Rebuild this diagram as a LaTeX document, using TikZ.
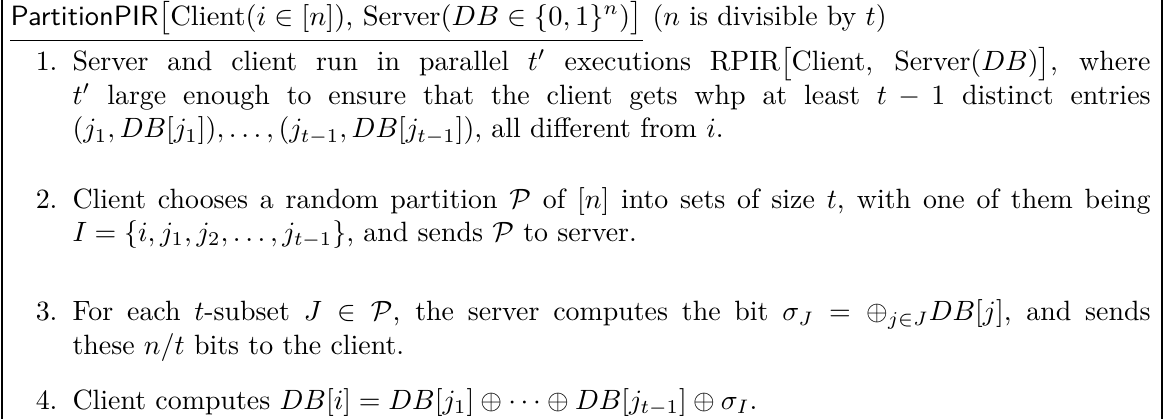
\documentclass[tikz,border=0pt]{standalone}
\usepackage{amsmath,amssymb,graphicx}
\begin{document}
\begin{tikzpicture}[x=1pt,y=1pt,
  itemtext/.style={anchor=base west,inner sep=0pt,text width=386.4pt,align=justify,font=\normalsize},
  itemlabel/.style={anchor=base east,inner sep=0pt},
  framerule/.style={line width=0.55pt},
  uline/.style={line width=0.4pt}]
\useasboundingbox (0,0) rectangle (417.2,-150.2);
\draw[framerule] (0.7,0) coordinate (lt) -- (0.7,-150.2) coordinate (lb);
\draw[framerule] (416.5,0) coordinate (rt) -- (416.5,-150.2) coordinate (rb);
\node[anchor=base west,inner sep=0pt] (tname) at (3.6,-9)
  {\scalebox{1.022}[1]{\textsf{PartitionPIR}$\big[$Client$(i\in[n])$, Server$(DB\in\{0,1\}^n)\big]$}};
\node[anchor=base west,inner sep=0pt] (tnote) at ([xshift=3.3pt]tname.base east) {($n$ is divisible by $t$)};
\draw[uline] ([yshift=-5.4pt]tname.base west) -- ([yshift=-5.4pt]tname.base east);
\node[itemtext] (i1) at (25.8,-25.4) {Server and client run in parallel $t'$ executions RPIR$\big[$Client, Server$(DB)\big]$, where\linebreak $t'$ large enough to ensure that the client gets whp at least $t-1$ distinct entries\linebreak $(j_1,DB[j_1]),\ldots,(j_{t-1},DB[j_{t-1}])$, all different from $i$.};
\node[itemlabel] (l1) at ([xshift=-5pt]i1.base west) {1.};
\node[itemtext] (i2) at (25.8,-74.6) {Client chooses a random partition $\mathcal{P}$ of $[n]$ into sets of size $t$, with one of them being\linebreak $I=\{i,j_1,j_2,\ldots,j_{t-1}\}$, and sends $\mathcal{P}$ to server.};
\node[itemlabel] (l2) at ([xshift=-5pt]i2.base west) {2.};
\node[itemtext] (i3) at (25.8,-115) {For each $t$-subset $J\in\mathcal{P}$, the server computes the bit $\sigma_J=\oplus_{j\in J}DB[j]$, and sends\linebreak these $n/t$ bits to the client.};
\node[itemlabel] (l3) at ([xshift=-5pt]i3.base west) {3.};
\node[itemtext] (i4) at (25.8,-146.6) {Client computes $DB[i]=DB[j_1]\oplus\cdots\oplus DB[j_{t-1}]\oplus\sigma_I$.};
\node[itemlabel] (l4) at ([xshift=-5pt]i4.base west) {4.};
\end{tikzpicture}
\end{document}
